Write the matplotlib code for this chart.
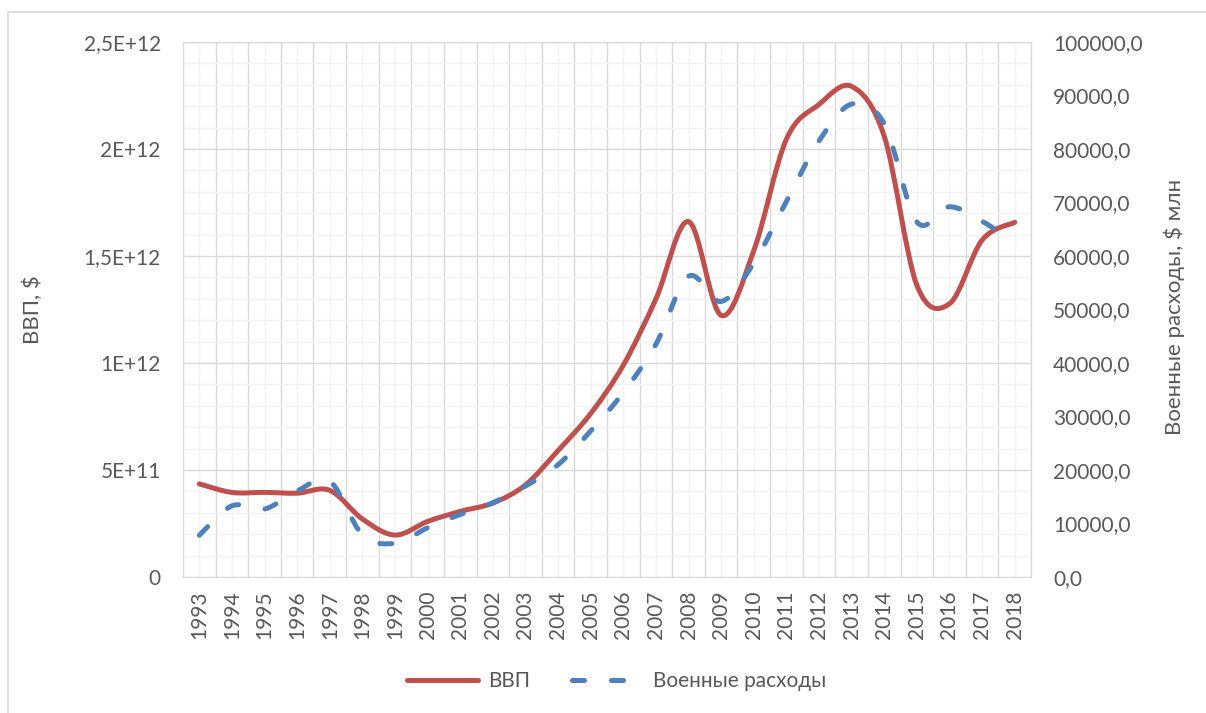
import numpy as np
import matplotlib.pyplot as plt
from matplotlib.path import Path
from matplotlib.patches import PathPatch
from matplotlib.lines import Line2D
from matplotlib.ticker import MultipleLocator, FuncFormatter

plt.rcParams['font.family'] = ['Lato', 'Open Sans', 'DejaVu Sans']

# data
years = list(range(1993, 2019))
gdp = [435.1e9, 395.1e9, 395.5e9, 391.7e9, 404.9e9, 271.0e9, 195.9e9, 259.7e9,
       306.6e9, 345.5e9, 430.3e9, 591.0e9, 764.0e9, 989.9e9, 1299.7e9, 1660.8e9,
       1222.6e9, 1524.9e9, 2045.9e9, 2208.3e9, 2292.5e9, 2059.2e9, 1363.5e9,
       1276.8e9, 1574.2e9, 1657.3e9]
mil = [7800, 13300, 12700, 16100, 17900, 7900, 6300, 9200, 11700, 13900, 17000,
       21000, 27300, 34500, 43500, 56200, 51500, 58700, 70200, 81500, 88400,
       84700, 66400, 69200, 66500, 62500]
left_ticks = [0, 5e11, 1e12, 1.5e12, 2e12, 2.5e12]
left_labels = ['0', '5E+11', '1E+12', '1,5E+12', '2E+12', '2,5E+12']

red = '#C0504D'
blue = '#4F81BD'
txt = '#595959'
fs = 15


def smooth_path(xs, ys):
    # excel-like smoothed line: bezier segments through every point
    pts = np.column_stack([xs, ys]).astype(float)
    ext = np.vstack([pts[0], pts, pts[-1]])
    verts = [pts[0]]
    codes = [Path.MOVETO]
    for i in range(len(pts) - 1):
        p0, p1, p2, p3 = ext[i], ext[i + 1], ext[i + 2], ext[i + 3]
        verts += [p1 + (p2 - p0) / 6, p2 - (p3 - p1) / 6, p2]
        codes += [Path.CURVE4] * 3
    return Path(verts, codes)


fig = plt.figure(figsize=(12.06, 7.13), dpi=100)
ax = fig.add_axes([183 / 1206, 1 - 577 / 713, 848 / 1206, 535 / 713])
x = np.arange(len(years))

ax.add_patch(PathPatch(smooth_path(x, gdp), fill=False, edgecolor=red, lw=3.6,
                       capstyle='round', zorder=3))
ax.set_xlim(-0.5, len(years) - 0.5)
ax.set_ylim(0, 2.5e12)
ax.set_yticks(left_ticks)
ax.set_yticklabels(left_labels)
ax.yaxis.set_minor_locator(MultipleLocator(1e11))
ax.set_xticks(x)
ax.set_xticklabels([str(y) for y in years], rotation=90)
ax.set_xticks(np.arange(-0.5, len(years), 1), minor=True)
ax.grid(which='major', axis='y', color='#D9D9D9', lw=1)
ax.grid(which='minor', axis='y', color='#F2F2F2', lw=1)
ax.grid(which='minor', axis='x', color='#D9D9D9', lw=1)
ax.grid(which='major', axis='x', color='#F2F2F2', lw=1)
ax.set_axisbelow(True)
ax.tick_params(which='both', length=0, labelsize=fs, labelcolor=txt)
ax.tick_params(axis='y', pad=16)
ax.tick_params(axis='x', pad=10)
for s in ax.spines.values():
    s.set_color('#D9D9D9')

ax2 = ax.twinx()
ax2.add_patch(PathPatch(smooth_path(x, mil), fill=False, edgecolor=blue, lw=3.6,
                        capstyle='round', linestyle=(0, (2.4, 5.4)), zorder=3))
ax2.set_ylim(0, 100000)
ax2.yaxis.set_major_locator(MultipleLocator(10000))
ax2.yaxis.set_major_formatter(FuncFormatter(lambda v, p: f'{v:.1f}'.replace('.', ',')))
ax2.tick_params(length=0, labelsize=fs, labelcolor=txt, pad=16)
for s in ax2.spines.values():
    s.set_visible(False)

fig.text(33 / 1206, 1 - 310 / 713, 'ВВП, $', rotation=90, ha='center', va='center',
         fontsize=fs + 1, color=txt)
fig.text(1174 / 1206, 1 - 307 / 713, 'Военные расходы, $ млн', rotation=90,
         ha='center', va='center', fontsize=fs + 1, color=txt)

handles = [Line2D([], [], color=red, lw=3.6, solid_capstyle='round'),
           Line2D([], [], color=blue, lw=3.6, linestyle=(0, (2.4, 5.4)),
                  dash_capstyle='round')]
fig.legend(handles, ['ВВП', 'Военные расходы'], loc='center', ncol=2,
           bbox_to_anchor=(617 / 1206, 1 - 681 / 713), frameon=False,
           fontsize=fs, labelcolor=txt, handlelength=3.4, handletextpad=0.5,
           columnspacing=2.0)

# chart frame (only top and left edge visible)
fig.add_artist(Line2D([8 / 1206, 8 / 1206, 1], [0, 1 - 12 / 713, 1 - 12 / 713],
                      color='#D9D9D9', lw=1.2))

fig.savefig('out.png', dpi=100)
